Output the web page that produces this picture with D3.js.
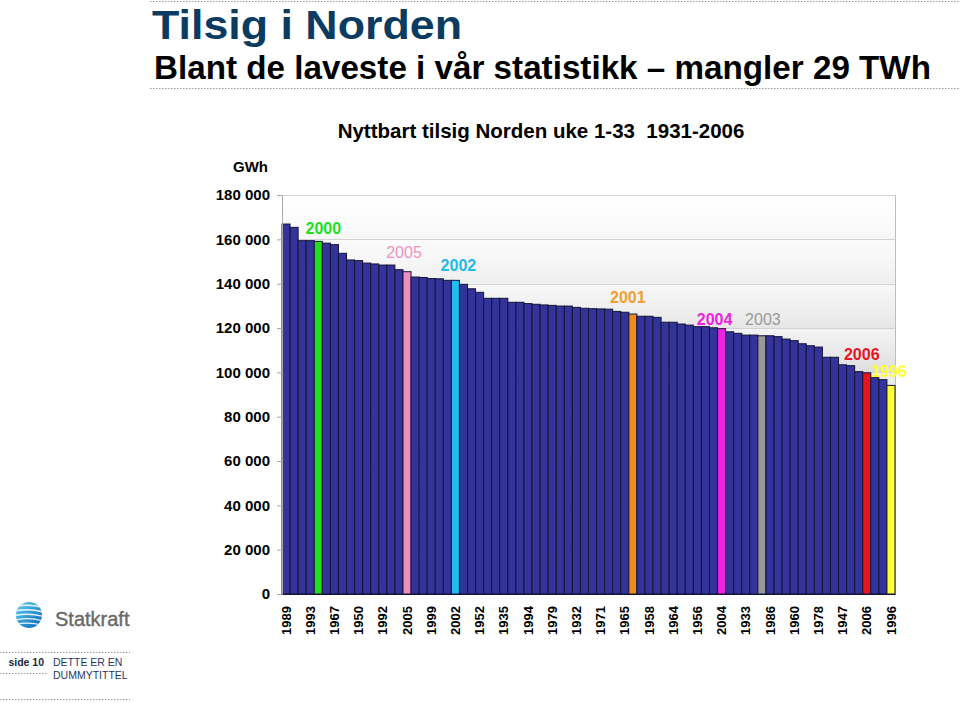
<!DOCTYPE html>
<html>
<head>
<meta charset="utf-8">
<script src="https://cdn.jsdelivr.net/npm/d3@7"></script>
<style>
  html, body { margin: 0; padding: 0; background: #ffffff; }
  svg { display: block; font-family: "Liberation Sans", Arial, Helvetica, sans-serif; }
</style>
</head>
<body>
<svg id="chart" width="960" height="704"></svg>
<script>
// ---- DATA ----
// Years in bar order (sorted by inflow, descending). Labelled years are read from the chart;
// years of unlabelled bars are not readable and are filled with the remaining years as placeholders.
const years = [1989,1931,1934,1993,2000,1936,1967,1937,1938,1950,1939,1940,1992,1941,1942,2005,1943,1944,1999,1945,
               1946,2002,1948,1949,1952,1951,1953,1935,1954,1955,1994,1957,1959,1979,1961,1962,1932,1963,1966,1971,
               1968,1969,1965,2001,1970,1958,1972,1973,1964,1974,1975,1956,1976,1977,2004,1980,1981,1933,1982,2003,
               1986,1983,1984,1960,1985,1987,1978,1988,1990,1947,1991,1995,2006,1997,1998,1996];
// Usable inflow weeks 1-33 (GWh)
const inflow = [166900,165400,159400,159400,159100,158300,157600,153700,150700,150400,149300,148900,148400,148400,146300,145400,143000,142800,142300,142200,
                141500,141500,139700,137700,136100,133400,133400,133400,131600,131600,131000,130700,130400,130200,129900,129900,129300,128900,128700,128600,
                128500,127500,127100,126300,125300,125300,124800,122600,122600,121800,121300,120600,120600,120100,119700,118300,117600,116800,116800,116500,
                116500,116100,115000,114300,112900,112000,111400,106800,106800,103400,103000,100300,99800,97600,96700,94100];
// Tick labels
const yTicks = [0,20000,40000,60000,80000,100000,120000,140000,160000,180000];
const xTickEvery = 3;
// Highlighted years
const highlightYears = [2000,2005,2002,2001,2004,2003,2006,1996];

// ---- STYLE ----
const highlightColors = {2000:"#22dd22",2005:"#f08cbe",2002:"#22bbee",2001:"#f08c1e",2004:"#ee22e0",2003:"#999999",2006:"#e8141e",1996:"#ffff33"};
const highlightLabelColors = {2000:"#22dd22",2005:"#ee92c2",2002:"#22bbe8",2001:"#f0a030",2004:"#ee22e0",2003:"#9a9a9a",2006:"#e8141e",1996:"#ffff33"};
const labelOffset = {2000:[5,-7],2005:[-3,-14],2002:[3,-9],2001:[-5,-11],2004:[-7,-4],2003:[1,-11],2006:[-5,-13],1996:[-2,-8]};
const labelBold = {2000:true,2005:false,2002:true,2001:true,2004:true,2003:false,2006:true,1996:true};
const barColor = "#333399";

const svg = d3.select("#chart");
const plot = {left: 282, right: 895, top: 195, bottom: 594};

// ---- Headers ----
const dotted = (x1, x2, y) => svg.append("line").attr("x1", x1).attr("x2", x2).attr("y1", y).attr("y2", y)
  .attr("stroke", "#9a9a9a").attr("stroke-width", 1).attr("stroke-dasharray", "1.5,1.5");
dotted(150, 960, 1.5);
dotted(150, 960, 88.5);

svg.append("text").attr("x", 152).attr("y", 38.5).attr("font-size", 41).attr("font-weight", "bold")
  .attr("textLength", 310).attr("lengthAdjust", "spacingAndGlyphs")
  .attr("fill", "#0b3b61").text("Tilsig i Norden");
svg.append("text").attr("x", 154).attr("y", 79).attr("font-size", 33).attr("font-weight", "bold")
  .attr("textLength", 777).attr("lengthAdjust", "spacingAndGlyphs")
  .attr("fill", "#000").text("Blant de laveste i vår statistikk – mangler 29 TWh");

svg.append("text").attr("x", 541).attr("y", 138).attr("text-anchor", "middle").attr("font-size", 20.5)
  .attr("font-weight", "bold").attr("fill", "#000").style("white-space", "pre")
  .text("Nyttbart tilsig Norden uke 1-33  1931-2006");

// ---- Scales ----
const x = d3.scaleBand().domain(years).range([plot.left, plot.right]).padding(0);
const y = d3.scaleLinear().domain([0, 180000]).range([plot.bottom, plot.top]);

// ---- Plot background ----
const defs = svg.append("defs");
const grad = defs.append("linearGradient").attr("id", "bg").attr("x1", 0).attr("x2", 0).attr("y1", 0).attr("y2", 1);
grad.append("stop").attr("offset", "0%").attr("stop-color", "#ffffff");
grad.append("stop").attr("offset", "100%").attr("stop-color", "#b4b4b4");
const bandGrad = defs.append("linearGradient").attr("id", "band").attr("x1", 0).attr("x2", 0).attr("y1", 0).attr("y2", 1);
bandGrad.append("stop").attr("offset", "0%").attr("stop-color", "#ffffff").attr("stop-opacity", 0.55);
bandGrad.append("stop").attr("offset", "100%").attr("stop-color", "#ffffff").attr("stop-opacity", 0);

svg.append("rect").attr("x", plot.left).attr("y", plot.top).attr("width", plot.right - plot.left)
  .attr("height", plot.bottom - plot.top).attr("fill", "url(#bg)");
for (let i = 0; i < yTicks.length - 1; i++) {
  svg.append("rect").attr("x", plot.left).attr("y", y(yTicks[i + 1]))
    .attr("width", plot.right - plot.left).attr("height", y(yTicks[i]) - y(yTicks[i + 1]))
    .attr("fill", "url(#band)");
}

// gridlines
svg.append("g").selectAll("line").data(yTicks.filter(d => d > 0)).join("line")
  .attr("x1", plot.left).attr("x2", plot.right)
  .attr("y1", d => Math.round(y(d)) + 0.5).attr("y2", d => Math.round(y(d)) + 0.5)
  .attr("stroke", "#d2d2d2").attr("stroke-width", 1.2);

// right border
svg.append("line").attr("x1", plot.right + 0.5).attr("x2", plot.right + 0.5).attr("y1", plot.top).attr("y2", plot.bottom)
  .attr("stroke", "#bdbdbd");

// ---- Bars ----
svg.append("g").selectAll("rect").data(years).join("rect")
  .attr("x", d => x(d))
  .attr("y", (d, i) => y(inflow[i]))
  .attr("width", x.bandwidth())
  .attr("height", (d, i) => y(0) - y(inflow[i]))
  .attr("fill", d => highlightColors[d] || barColor)
  .attr("stroke", "#15153a").attr("stroke-width", 1);

// ---- Axes ----
const yAxis = d3.axisLeft(y).tickValues(yTicks).tickSize(5).tickPadding(7)
  .tickFormat(d => d3.format(",")(d).replace(/,/g, " "));
const gy = svg.append("g").attr("transform", `translate(${plot.left},0)`).call(yAxis);
gy.select(".domain").attr("stroke", "#a8a8a8");
gy.selectAll(".tick line").attr("stroke", "#a8a8a8");
gy.selectAll(".tick text").attr("font-size", 15).attr("font-weight", "bold").attr("fill", "#000")
  .attr("font-family", "Liberation Sans, Arial, sans-serif");

svg.append("text").attr("x", 268).attr("y", 172).attr("text-anchor", "end").attr("font-size", 15)
  .attr("font-weight", "bold").text("GWh");

const xAxis = d3.axisBottom(x).tickValues(years.filter((d, i) => i % xTickEvery === 0)).tickSize(0).tickPadding(0);
const gx = svg.append("g").attr("transform", `translate(0,${plot.bottom})`).call(xAxis);
gx.select(".domain").attr("stroke", "#15153a");
gx.selectAll(".tick text")
  .attr("transform", "rotate(-90)")
  .attr("text-anchor", "end")
  .attr("x", -12).attr("y", 0).attr("dy", "0.35em")
  .attr("font-size", 13).attr("font-weight", "bold").attr("fill", "#000")
  .attr("font-family", "Liberation Sans, Arial, sans-serif");

// ---- Highlight labels ----
svg.append("g").selectAll("text").data(highlightYears).join("text")
  .attr("x", d => x(d) + x.bandwidth() / 2 + labelOffset[d][0])
  .attr("y", d => y(inflow[years.indexOf(d)]) + labelOffset[d][1])
  .attr("text-anchor", "middle")
  .attr("font-size", 16)
  .attr("font-weight", d => labelBold[d] ? "bold" : "normal")
  .attr("fill", d => highlightLabelColors[d])
  .text(d => d);

// ---- Logo ----
const logo = svg.append("g").attr("transform", "translate(29,615)");
const lg = defs.append("linearGradient").attr("id", "sph").attr("x1", 0).attr("x2", 1).attr("y1", 0).attr("y2", 1);
lg.append("stop").attr("offset", "0%").attr("stop-color", "#5fd0f5");
lg.append("stop").attr("offset", "100%").attr("stop-color", "#0a64b4");
const clip = defs.append("clipPath").attr("id", "sphclip");
clip.append("circle").attr("r", 13);
logo.append("circle").attr("r", 13).attr("fill", "url(#sph)");
const stripes = logo.append("g").attr("clip-path", "url(#sphclip)");
[-8, -3.5, 1, 5.5, 10].forEach((s, i) => {
  stripes.append("path")
    .attr("d", `M-16,${s} Q0,${s - 4} 16,${s + 1}`)
    .attr("fill", "none").attr("stroke", "#ffffff").attr("stroke-width", 1.6 - i * 0.1).attr("opacity", 0.9);
});
svg.append("text").attr("x", 55).attr("y", 626).attr("font-size", 20)
  .attr("fill", "#6a6a6a").attr("stroke", "#6a6a6a").attr("stroke-width", 0.4).text("Statkraft");

// ---- Footer ----
dotted(0, 130, 652.5);
dotted(0, 48, 673.5);
dotted(0, 130, 699.5);
svg.append("text").attr("x", 44).attr("y", 666).attr("text-anchor", "end").attr("font-size", 10.5)
  .attr("font-weight", "bold").attr("fill", "#1a2a40").text("side 10");
svg.append("text").attr("x", 53).attr("y", 666).attr("font-size", 10.5).attr("fill", "#1f3a6a").text("DETTE ER EN");
svg.append("text").attr("x", 53).attr("y", 679).attr("font-size", 10.5).attr("fill", "#1f3a6a").text("DUMMYTITTEL");
</script>
</body>
</html>
